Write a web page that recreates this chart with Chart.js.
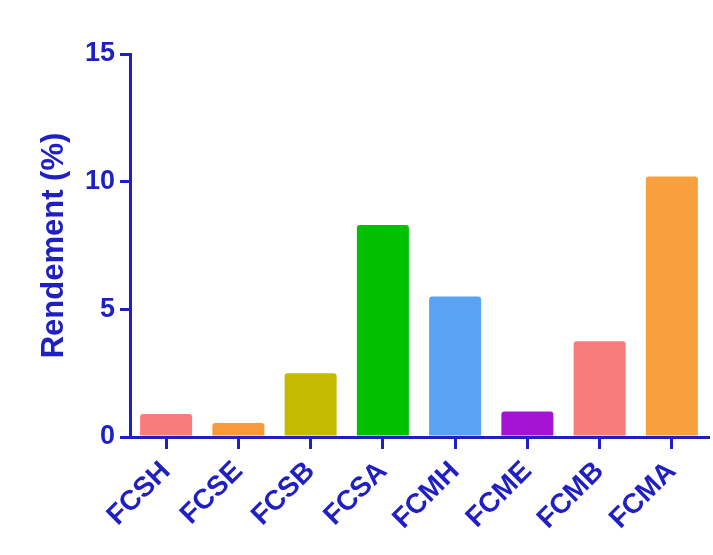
<!DOCTYPE html>
<html>
<head>
<meta charset="utf-8">
<script src="https://cdn.jsdelivr.net/npm/chart.js@4/dist/chart.umd.min.js"></script>
<style>
  html, body { margin: 0; padding: 0; background: #ffffff; }
  #wrap { width: 713px; height: 555px; position: relative; }
</style>
</head>
<body>
<div id="wrap"><canvas id="c" width="713" height="555"></canvas></div>
<script>
// Extraction yield per sample
const categories = ['FCSH', 'FCSE', 'FCSB', 'FCSA', 'FCMH', 'FCME', 'FCMB', 'FCMA'];
const yieldValues = [0.9, 0.55, 2.5, 8.3, 5.5, 1.0, 3.75, 10.2];
const barColors = ['#f77c7c', '#f99a3a', '#c4bb00', '#00c000', '#5aa2f2', '#a414d2', '#f87c7c', '#f9a03e'];
const yTicks = [0, 5, 10, 15];
const yTitle = 'Rendement (%)';

const ink = '#1f1fc4';
const font = '"Liberation Sans", Arimo, sans-serif';

new Chart(document.getElementById('c'), {
  type: 'bar',
  data: {
    labels: categories,
    datasets: [{
      data: yieldValues,
      backgroundColor: barColors,
      borderWidth: 0,
      borderRadius: { topLeft: 3, topRight: 3 },
      borderSkipped: 'bottom',
      barPercentage: 0.72,
      categoryPercentage: 1.0
    }]
  },
  options: {
    responsive: false,
    animation: false,
    layout: { padding: { top: 54, right: 5, left: 36, bottom: 0 } },
    plugins: { legend: { display: false }, tooltip: { enabled: false } },
    scales: {
      x: {
        offset: true,
        border: { color: ink, width: 3 },
        grid: { display: true, drawOnChartArea: false, color: ink, lineWidth: 3, tickLength: 12, offset: false },
        ticks: {
          color: ink,
          maxRotation: 45,
          minRotation: 45,
          padding: 6,
          font: { family: font, size: 28, weight: 'bold' }
        },
        afterFit: (s) => { s.height = 118; }
      },
      y: {
        min: 0,
        max: 15,
        afterBuildTicks: (s) => { s.ticks = yTicks.map(v => ({ value: v })); },
        border: { color: ink, width: 3 },
        grid: { display: true, drawOnChartArea: false, color: ink, lineWidth: 3, tickLength: 10 },
        ticks: {
          color: ink,
          padding: 5,
          font: { family: font, size: 27, weight: 'bold' }
        },
        title: {
          display: true,
          text: yTitle,
          color: ink,
          padding: { top: 0, bottom: 6 },
          font: { family: font, size: 31, weight: 'bold' }
        },
        afterFit: (s) => { s.width = 94; }
      }
    }
  }
});
</script>
</body>
</html>
